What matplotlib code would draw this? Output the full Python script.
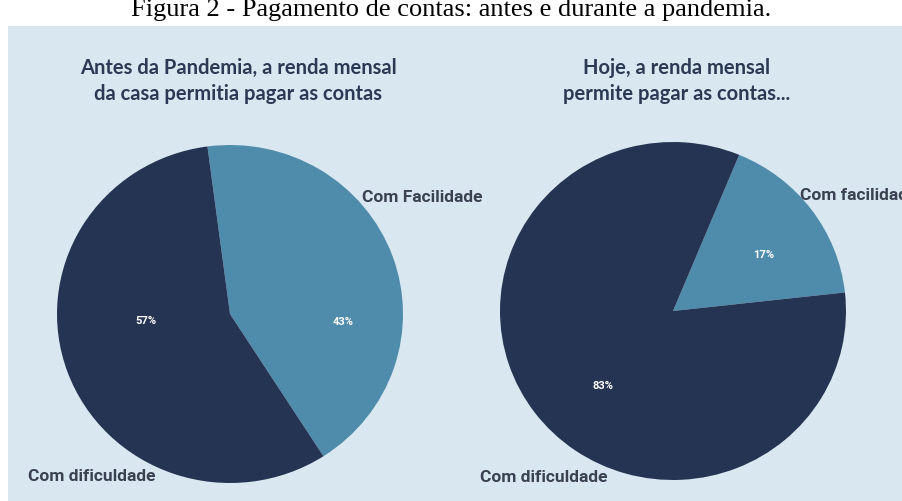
import matplotlib
matplotlib.use("Agg")
import matplotlib.pyplot as plt
from matplotlib.patches import Rectangle

W, H = 903, 502

# Data
before_labels = ["Com Facilidade", "Com dificuldade"]
before_values = [43, 57]
today_labels = ["Com facilidade", "Com dificuldade"]
today_values = [17, 83]

figure_title = "Figura 2 - Pagamento de contas: antes e durante a pandemia."
before_title = "Antes da Pandemia, a renda mensal\nda casa permitia pagar as contas"
today_title = "Hoje, a renda mensal\npermite pagar as contas..."

light_blue = "#4f8bab"
navy = "#263454"
panel_bg = "#d9e8f0"
title_color = "#2b3954"
label_color = "#3a4252"

label_font = ["Roboto", "DejaVu Sans"]

fig = plt.figure(figsize=(W / 100, H / 100), dpi=100, facecolor="white")


def fx(px):
    return px / W


def fy(py):
    return 1 - py / H


# Infographic panel behind everything
fig.patches.append(Rectangle((fx(8), 0), 1 - fx(8), fy(27), transform=fig.transFigure,
                             facecolor=panel_bg, edgecolor="none", zorder=-10))

fig.text(0.5, fy(16), figure_title, ha="center", va="baseline",
         fontsize=19, family="Liberation Serif", color="black")


def draw_pie(box, values, startangle, pct_pos):
    x0, y0, x1, y1 = box
    ax = fig.add_axes([fx(x0), fy(y1), fx(x1 - x0), (y1 - y0) / H])
    ax.set_zorder(1)
    ax.patch.set_visible(False)
    ax.pie(values, colors=[light_blue, navy], startangle=startangle,
           counterclock=False, radius=1.0, wedgeprops=dict(linewidth=0))
    ax.set_aspect("auto")
    ax.set_xlim(-1, 1)
    ax.set_ylim(-1, 1)
    ax.axis("off")
    for v, (px, py) in zip(values, pct_pos):
        ax.text((px - x0) / (x1 - x0), (y1 - py) / (y1 - y0), f"{v}%",
                transform=ax.transAxes, ha="center", va="center",
                fontsize=8, fontweight="bold", color="white", family=label_font)
    return ax


draw_pie((57, 146, 403, 484), before_values, 97.5, [(343, 322), (146, 321)])
draw_pie((500, 143, 846, 481), today_values, 67.5, [(764, 255), (603, 386)])

# Titles
fig.text(fx(238), fy(81), before_title, ha="center", va="center", fontsize=14.5,
         fontweight="bold", color=title_color, family="Lato", linespacing=1.4)
fig.text(fx(677), fy(81), today_title, ha="center", va="center", fontsize=14.5,
         fontweight="bold", color=title_color, family="Lato", linespacing=1.4)

# Category labels
label_kw = dict(ha="left", va="center", fontsize=12.5, fontweight="bold",
                color=label_color, family=label_font, zorder=5)
fig.text(fx(362), fy(198), before_labels[0], **label_kw)
fig.text(fx(28), fy(477), before_labels[1], **label_kw)
fig.text(fx(800), fy(196), today_labels[0], **label_kw)
fig.text(fx(480), fy(478), today_labels[1], **label_kw)

fig.savefig("out.png", dpi=100, facecolor="white")
